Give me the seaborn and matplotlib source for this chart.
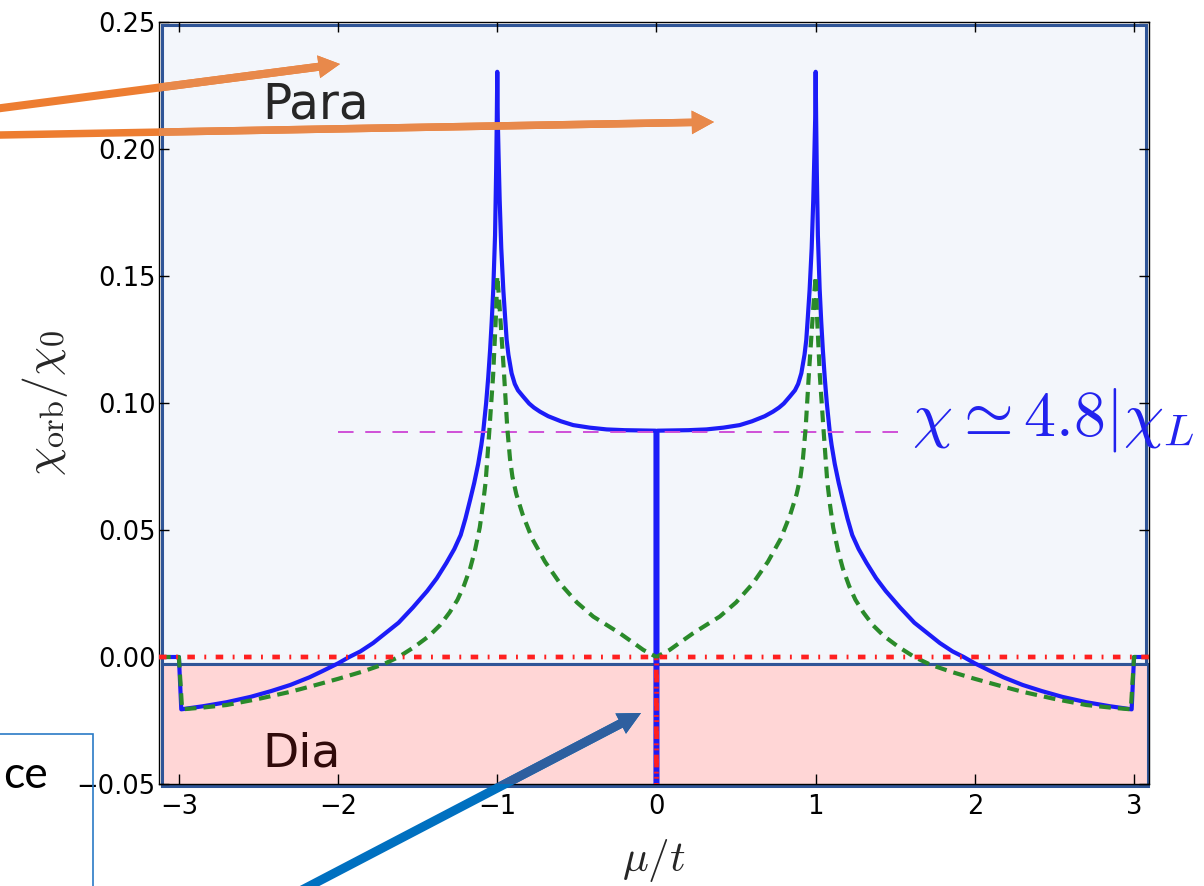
import matplotlib
matplotlib.use("Agg")
import matplotlib.pyplot as plt
from matplotlib.patches import Rectangle, FancyArrowPatch, ArrowStyle
import seaborn as sns

sns.set_style("ticks")
plt.rcParams["font.family"] = ["DejaVu Sans"]
plt.rcParams["mathtext.fontset"] = "cm"

# ---- data: orbital susceptibility vs chemical potential ----
mu_total = [-3.125, -3.0, -2.985, -2.85, -2.70, -2.55, -2.42, -2.30, -2.18, -2.10,
            -2.00, -1.93, -1.86, -1.78, -1.70, -1.62, -1.53, -1.44, -1.38, -1.32,
            -1.27, -1.23, -1.20, -1.17, -1.145, -1.12, -1.10, -1.088, -1.07, -1.057,
            -1.045, -1.035, -1.025, -1.014, -1.007, -1.003, -1.0,
            -0.997, -0.992, -0.985, -0.975, -0.962, -0.95, -0.941, -0.93, -0.91, -0.89,
            -0.87, -0.837, -0.80, -0.77, -0.732, -0.68, -0.60, -0.523, -0.42, -0.313,
            -0.20, -0.10, -0.006, -0.006,
            0.006, 0.006, 0.10, 0.20, 0.313, 0.42, 0.523, 0.60, 0.68, 0.732,
            0.77, 0.80, 0.837, 0.87, 0.89, 0.91, 0.93, 0.941, 0.95, 0.962,
            0.975, 0.985, 0.992, 0.997, 1.0,
            1.003, 1.007, 1.014, 1.025, 1.035, 1.045, 1.057, 1.07, 1.088, 1.10,
            1.12, 1.145, 1.17, 1.20, 1.23, 1.27, 1.32, 1.38, 1.44, 1.53,
            1.62, 1.70, 1.78, 1.86, 1.93, 2.00, 2.10, 2.18, 2.30, 2.42,
            2.55, 2.70, 2.85, 2.985, 3.0, 3.125]
chi_total = [0.0, 0.0, -0.0206, -0.0194, -0.0178, -0.0157, -0.0134, -0.0110, -0.0080, -0.0056,
             -0.0025, 0.0, 0.0022, 0.0055, 0.0095, 0.0135, 0.0195, 0.0260, 0.0310, 0.0370,
             0.0425, 0.0480, 0.0545, 0.0620, 0.0685, 0.0760, 0.0835, 0.0890, 0.1000, 0.1100,
             0.1210, 0.1320, 0.1450, 0.1660, 0.1920, 0.2120, 0.2304,
             0.2120, 0.1980, 0.1800, 0.1610, 0.1445, 0.1330, 0.1248, 0.1190, 0.1117, 0.1075,
             0.1050, 0.1025, 0.0998, 0.0982, 0.0966, 0.0948, 0.0928, 0.0913, 0.0903, 0.0896,
             0.0893, 0.0892, 0.0891, -0.08,
             -0.08, 0.0891, 0.0892, 0.0893, 0.0896, 0.0903, 0.0913, 0.0928, 0.0948, 0.0966,
             0.0982, 0.0998, 0.1025, 0.1050, 0.1075, 0.1117, 0.1190, 0.1248, 0.1330, 0.1445,
             0.1610, 0.1800, 0.1980, 0.2120, 0.2304,
             0.2120, 0.1920, 0.1660, 0.1450, 0.1320, 0.1210, 0.1100, 0.1000, 0.0890, 0.0835,
             0.0760, 0.0685, 0.0620, 0.0545, 0.0480, 0.0425, 0.0370, 0.0310, 0.0260, 0.0195,
             0.0135, 0.0095, 0.0055, 0.0022, 0.0, -0.0025, -0.0056, -0.0080, -0.0110, -0.0134,
             -0.0157, -0.0178, -0.0194, -0.0206, 0.0, 0.0]

mu_band = [-3.125, -3.0, -2.98, -2.85, -2.70, -2.50, -2.30, -2.15, -2.00, -1.85,
           -1.72, -1.62, -1.52, -1.43, -1.36, -1.30, -1.25, -1.21, -1.17, -1.14,
           -1.11, -1.09, -1.073, -1.05, -1.026, -1.008, -1.0,
           -0.99, -0.975, -0.958, -0.937, -0.92, -0.905, -0.88, -0.84, -0.78, -0.70,
           -0.606, -0.50, -0.397, -0.31, -0.229, -0.15, -0.083, 0.0,
           0.083, 0.15, 0.229, 0.31, 0.397, 0.50, 0.606, 0.70, 0.78, 0.84,
           0.88, 0.905, 0.92, 0.937, 0.958, 0.975, 0.99, 1.0,
           1.008, 1.026, 1.05, 1.073, 1.09, 1.11, 1.14, 1.17, 1.21, 1.25,
           1.30, 1.36, 1.43, 1.52, 1.62, 1.72, 1.85, 2.00, 2.15, 2.30,
           2.50, 2.70, 2.85, 2.98, 3.0, 3.125]
chi_band = [0.0, 0.0, -0.0206, -0.0199, -0.0189, -0.0165, -0.0137, -0.0112, -0.0086, -0.0058,
            -0.0030, 0.0, 0.0040, 0.0082, 0.0125, 0.0175, 0.0225, 0.0280, 0.0350, 0.0420,
            0.0510, 0.0600, 0.0690, 0.0890, 0.1110, 0.1350, 0.1500,
            0.1420, 0.1280, 0.1120, 0.0900, 0.0780, 0.0710, 0.0640, 0.0560, 0.0465, 0.0375,
            0.0290, 0.0215, 0.0159, 0.0125, 0.0093, 0.0058, 0.0028, 0.0,
            0.0028, 0.0058, 0.0093, 0.0125, 0.0159, 0.0215, 0.0290, 0.0375, 0.0465, 0.0560,
            0.0640, 0.0710, 0.0780, 0.0900, 0.1120, 0.1280, 0.1420, 0.1500,
            0.1350, 0.1110, 0.0890, 0.0690, 0.0600, 0.0510, 0.0420, 0.0350, 0.0280, 0.0225,
            0.0175, 0.0125, 0.0082, 0.0040, 0.0, -0.0030, -0.0058, -0.0086, -0.0112, -0.0137,
            -0.0165, -0.0189, -0.0199, -0.0206, 0.0, 0.0]

mu_dirac = [-3.125, -0.001, 0.0, 0.001, 3.125]
chi_dirac = [0.0, 0.0, -0.08, 0.0, 0.0]

mu_level = [-2.0, 1.55]
chi_level = [0.0885, 0.0885]

x_ticks = [-3, -2, -1, 0, 1, 2, 3]
x_tick_labels = ["\u22123", "\u22122", "\u22121", "0", "1", "2", "3"]
y_ticks = [-0.05, 0.0, 0.05, 0.10, 0.15, 0.20, 0.25]
y_tick_labels = ["\u22120.05", "0.00", "0.05", "0.10", "0.15", "0.20", "0.25"]

# ---- figure ----
fig = plt.figure(figsize=(12.04, 8.86), dpi=100)
fig.patch.set_facecolor("white")
ax = fig.add_axes([0.13206, 0.11512, 0.82226, 0.86005])
ax.set_facecolor("white")

x_lo, x_hi = -3.125, 3.094
y_lo, y_hi = -0.05, 0.25
split = -0.0028
split_frac = (split - y_lo) / (y_hi - y_lo)

# shaded regions
navy = "#2f5597"
ax.add_patch(Rectangle((0.003, split_frac), 0.994, 0.996 - split_frac,
                       transform=ax.transAxes, facecolor="#f3f6fb",
                       edgecolor=navy, lw=2.2, zorder=0.5))
ax.add_patch(Rectangle((0.003, -0.003), 0.996, split_frac + 0.003,
                       transform=ax.transAxes, facecolor="#ffd6d6",
                       edgecolor=navy, lw=2.2, zorder=0.5, clip_on=False))

sns.lineplot(x=mu_total, y=chi_total, ax=ax, estimator=None, sort=False,
             color="#1c1cf8", lw=3.0, zorder=3)
sns.lineplot(x=mu_level, y=chi_level, ax=ax, estimator=None, sort=False,
             color="#d050d8", lw=1.4, linestyle=(0, (8, 6)), zorder=3.5)
sns.lineplot(x=mu_band, y=chi_band, ax=ax, estimator=None, sort=False,
             color="#2a8a2a", lw=3.0, linestyle=(0, (2.8, 1.7)), zorder=4)
sns.lineplot(x=mu_dirac, y=chi_dirac, ax=ax, estimator=None, sort=False,
             color="#ff2020", lw=3.4, linestyle=(0, (1.6, 2.0, 0.4, 2.0)),
             solid_capstyle="butt", dash_capstyle="butt", zorder=5)

ax.set_xlim(x_lo, x_hi)
ax.set_ylim(y_lo, y_hi)
ax.set_xticks(x_ticks)
ax.set_xticklabels(x_tick_labels)
ax.set_yticks(y_ticks)
ax.set_yticklabels(y_tick_labels)
ax.tick_params(direction="in", length=7, width=1.0, top=True, right=True,
               labelsize=18.5, colors="black")
ax.tick_params(axis="x", pad=7)
ax.tick_params(axis="y", pad=2.5)
for sp in ax.spines.values():
    sp.set_color("black")
    sp.set_linewidth(1.0)

ax.set_xlabel(r"$\mu/t$", fontsize=31)
ax.set_ylabel(r"$\chi_{\rm orb}/\chi_0$", fontsize=33)
ax.xaxis.set_label_coords(0.5, -0.07)
ax.yaxis.set_label_coords(-0.09, 0.5)

ax.text(-2.478, 0.2122, "Para", fontsize=35, color="#262626",
        ha="left", va="baseline", zorder=6)
ax.text(-2.478, -0.0433, "Dia", fontsize=34, color="#300a0a",
        ha="left", va="baseline", zorder=6)
ax.text(1.605, 0.0874, r"$\chi \simeq 4.8|\chi_L$", fontsize=46,
        color="#2222ee", ha="left", va="baseline", zorder=7, clip_on=False)

# ---- slide annotations ----
W, H = 1204.0, 886.0


def fpt(x, y):
    return (x / W, 1 - y / H)


def arrow(p0, p1, outside, inside, tail, hw, hl):
    style = ArrowStyle("simple", head_length=hl, head_width=hw, tail_width=tail)
    for col, clip in ((outside, False), (inside, True)):
        a = FancyArrowPatch(fpt(*p0), fpt(*p1), transform=fig.transFigure,
                            arrowstyle=style, mutation_scale=1, shrinkA=0,
                            shrinkB=0, facecolor=col, edgecolor="none", lw=0,
                            zorder=10)
        fig.add_artist(a)
        if clip:
            a.set_clip_box(ax.bbox)
            a.set_clip_on(True)
        else:
            a.set_clip_on(False)


arrow((-10, 109.5), (340, 64), "#ed7d31", "#e8894b", 5.8, 16.5, 15.5)
arrow((-10, 135.2), (714, 122), "#ed7d31", "#e8894b", 5.4, 17.0, 16.0)
arrow((300, 891), (641, 713), "#0070c0", "#2e5f9f", 6.5, 16.5, 16.5)

# text box at lower left
fig.add_artist(Rectangle(fpt(-20, 900), (93 + 20) / W, (900 - 734) / H,
                         transform=fig.transFigure, facecolor="none",
                         edgecolor="#2a7ac6", lw=1.2, zorder=9))
fig.text(3 / W, 1 - 788 / H, "ce", fontsize=32, family="Lato",
         ha="left", va="baseline", color="black", zorder=9)

fig.savefig("out.png", dpi=100, facecolor="white")
